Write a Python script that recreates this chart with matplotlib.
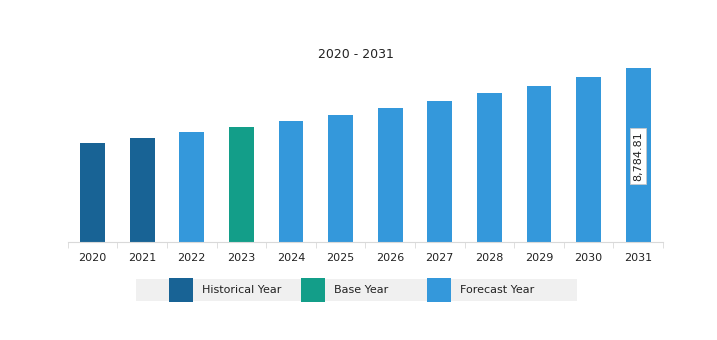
import matplotlib
matplotlib.use("Agg")
import matplotlib.pyplot as plt
from matplotlib.patches import Rectangle

# dados
years = ["2020", "2021", "2022", "2023", "2024", "2025",
         "2026", "2027", "2028", "2029", "2030", "2031"]
values = [5010, 5278, 5546, 5820, 6138, 6442,
          6781, 7135, 7520, 7909, 8329, 8784.81]
kinds = ["Historical Year", "Historical Year", "Forecast Year", "Base Year",
         "Forecast Year", "Forecast Year", "Forecast Year", "Forecast Year",
         "Forecast Year", "Forecast Year", "Forecast Year", "Forecast Year"]
legend_labels = ["Historical Year", "Base Year", "Forecast Year"]
title = "2020 - 2031"

colors = {"Historical Year": "#186395",
          "Base Year": "#139e89",
          "Forecast Year": "#3498db"}

W, H = 717, 340
fig = plt.figure(figsize=(W / 100, H / 100), dpi=100)
ax = fig.add_axes([67.7 / W, 98 / H, 595.3 / W, 197.6 / H])

x = list(range(len(years)))
ax.bar(x, values, width=0.5, color=[colors[k] for k in kinds], zorder=2)
ax.set_xlim(-0.5, len(years) - 0.5)
ax.set_ylim(0, 10000)

for s in ["top", "right", "left"]:
    ax.spines[s].set_visible(False)
ax.spines["bottom"].set_color("#d9d9d9")
ax.set_yticks([])
ax.set_xticks(x)
ax.set_xticklabels(years, fontsize=8, color="#222222")
ax.tick_params(axis="x", which="major", length=0, pad=8)
ax.set_xticks([i - 0.5 for i in range(len(years) + 1)], minor=True)
ax.tick_params(axis="x", which="minor", length=4, color="#d9d9d9")

ax.text(x[-1], values[-1] * 0.495, f"{values[-1]:,.2f}", rotation=90,
        ha="center", va="center", fontsize=8, color="#222222",
        bbox=dict(boxstyle="square,pad=0.25", facecolor="white",
                  edgecolor="#c8c8c8", linewidth=0.6), zorder=3)

fig.text(356 / W, 1 - 54 / H, title, ha="center", va="center",
         fontsize=9, color="#222222")

# legenda desenhada à mão
def px(xp, yp):
    return xp / W, 1 - yp / H

fig.add_artist(Rectangle(px(136, 301), 441 / W, 22 / H,
                         transform=fig.transFigure, facecolor="#f0f0f0",
                         edgecolor="none"))
patch_x = [168.5, 301, 426.5]
text_x = [202, 334, 460]
for lab, pxx, tx in zip(legend_labels, patch_x, text_x):
    fig.add_artist(Rectangle(px(pxx, 302), 24 / W, 24 / H,
                             transform=fig.transFigure,
                             facecolor=colors[lab], edgecolor="none"))
    fig.text(*px(tx, 290), lab, ha="left", va="center",
             fontsize=8, color="#222222")

fig.savefig("out.png", dpi=100)
